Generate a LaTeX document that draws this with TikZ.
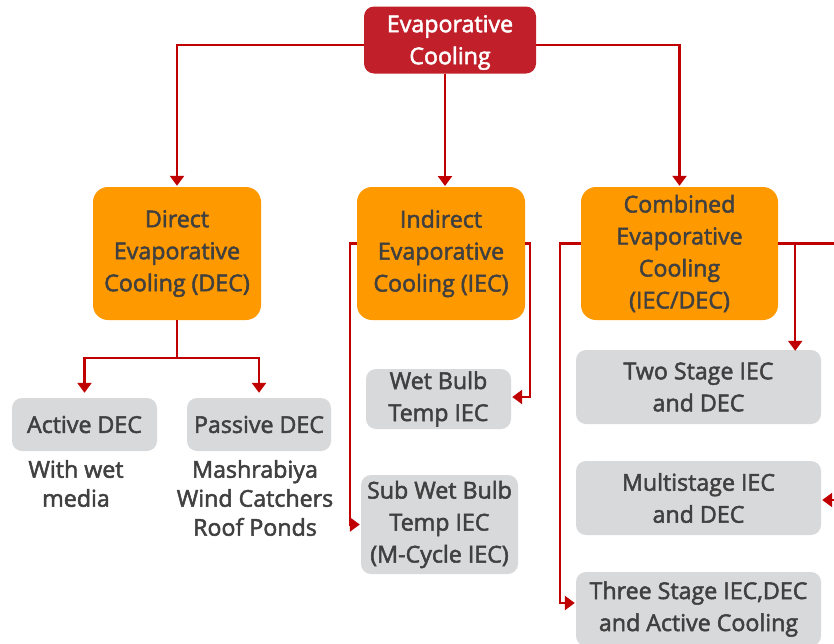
\documentclass[tikz,border=0pt]{standalone}
\usepackage{fontspec}
\setmainfont{Open Sans}[FakeBold=2.2]
\usetikzlibrary{arrows.meta,positioning,calc}
\definecolor{ecred}{RGB}{193,32,42}
\definecolor{ecline}{RGB}{192,0,0}
\definecolor{ecorange}{RGB}{255,153,0}
\definecolor{ecgray}{RGB}{216,217,219}
\definecolor{ectext}{RGB}{64,64,64}

\begin{document}
\begin{tikzpicture}
[x=1pt,y=-1pt,
every node/.style={align=center,inner sep=0pt,font=\fontsize{23.2}{32}\selectfont,text=ectext},
topbox/.style={fill=ecred,rounded corners=10pt,text=white},
mainbox/.style={fill=ecorange,rounded corners=15pt,minimum height=133pt},
subbox/.style={fill=ecgray,rounded corners=10pt},
lab/.style={fill=none,font=\fontsize{23.2}{29}\selectfont},
myedge/.style={>={Triangle[width=14pt,length=10pt]}, shorten >=1pt, line width=2.3pt, ecline}]
\useasboundingbox (0,0) rectangle (834,643);
\clip (0,0) rectangle (834,643);
%%%%% root
\node (ec) [topbox,minimum width=172pt,minimum height=67pt] at (450,40) {};
\node (ectxt) [text=white] at (450,42.5) {Evaporative\\Cooling};
%% main types
\node (dec) [mainbox,minimum width=168pt] at (177,253.5) {Direct\\Evaporative\\Cooling (DEC)};
\node (iec) [mainbox,minimum width=168pt] at (441,253.5) {Indirect\\Evaporative\\Cooling (IEC)};
\node (cec) [mainbox,minimum width=197pt] at (679.5,253.5) {Combined\\Evaporative\\Cooling\\(IEC/DEC)};
%% direct
\node (adec) [subbox,minimum width=145pt,minimum height=53pt] at (84.5,424.5) {Active DEC};
\node (pdec) [subbox,minimum width=144pt,minimum height=53pt] at (259,424.5) {Passive DEC};
\node (adecl) [lab] at (76,483.5) {With wet\\media};
\node (pdecl) [lab] at (255,498) {Mashrabiya\\Wind Catchers\\Roof Ponds};
%% indirect
\node (wb) [subbox,minimum width=145pt,minimum height=60pt] at (438.5,399) {Wet Bulb\\Temp IEC};
\node (swb) [subbox,minimum width=157pt,minimum height=99pt] at (439.5,524.5) {Sub Wet Bulb\\Temp IEC\\(M-Cycle IEC)};
%% combined
\node (tw) [subbox,minimum width=245pt,minimum height=74pt] at (698.5,387) {Two Stage IEC\\and DEC};
\node (ms) [subbox,minimum width=245pt,minimum height=74pt] at (698.5,498) {Multistage IEC\\and DEC};
\node (ts) [subbox,minimum width=245pt,minimum height=74pt] at (698.5,609) {Three Stage IEC,DEC\\and Active Cooling};
%% edges from root
\draw[myedge,->] ([yshift=-5pt]ec.west) -| (dec.north);
\draw[myedge,->] ([yshift=-5pt]ec.east) -| (cec.north);
\draw[myedge,->] (ec.south -| 445,0) -- (445,187);
%% direct edges
\coordinate (dj) at ($(dec.south)+(0,38)$);
\draw[myedge,->,shorten >=5pt] (dj) -| (adec.north);
\draw[myedge,->,shorten >=5pt] (dj) -| (pdec.north);
\draw[myedge] (dec.south) -- (dj);
%% indirect edges
\draw[myedge,->] ([yshift=10pt]iec.west) -- ++(-7,0) |- (swb.west);
\draw[myedge,->] ([yshift=10pt]iec.east) -- ++(5,0) |- ([yshift=2pt]wb.east);
%% combined edges
\coordinate (cj) at ($([yshift=10pt]cec.east)+(17,0)$);
\coordinate (mr) at ($(ms.east)+(20,2)$);
\draw[myedge] ([yshift=10pt]cec.east) -- ++(70,0);
\draw[myedge,->,shorten >=-1pt] (cj) -- (cj |- tw.north);
\draw[myedge,->] ([yshift=10pt]cec.west) -- ++(-21,0) |- ([yshift=6pt]ts.west);
\draw[myedge,->] (mr) -- (mr -| ms.east);
\end{tikzpicture}
\end{document}
